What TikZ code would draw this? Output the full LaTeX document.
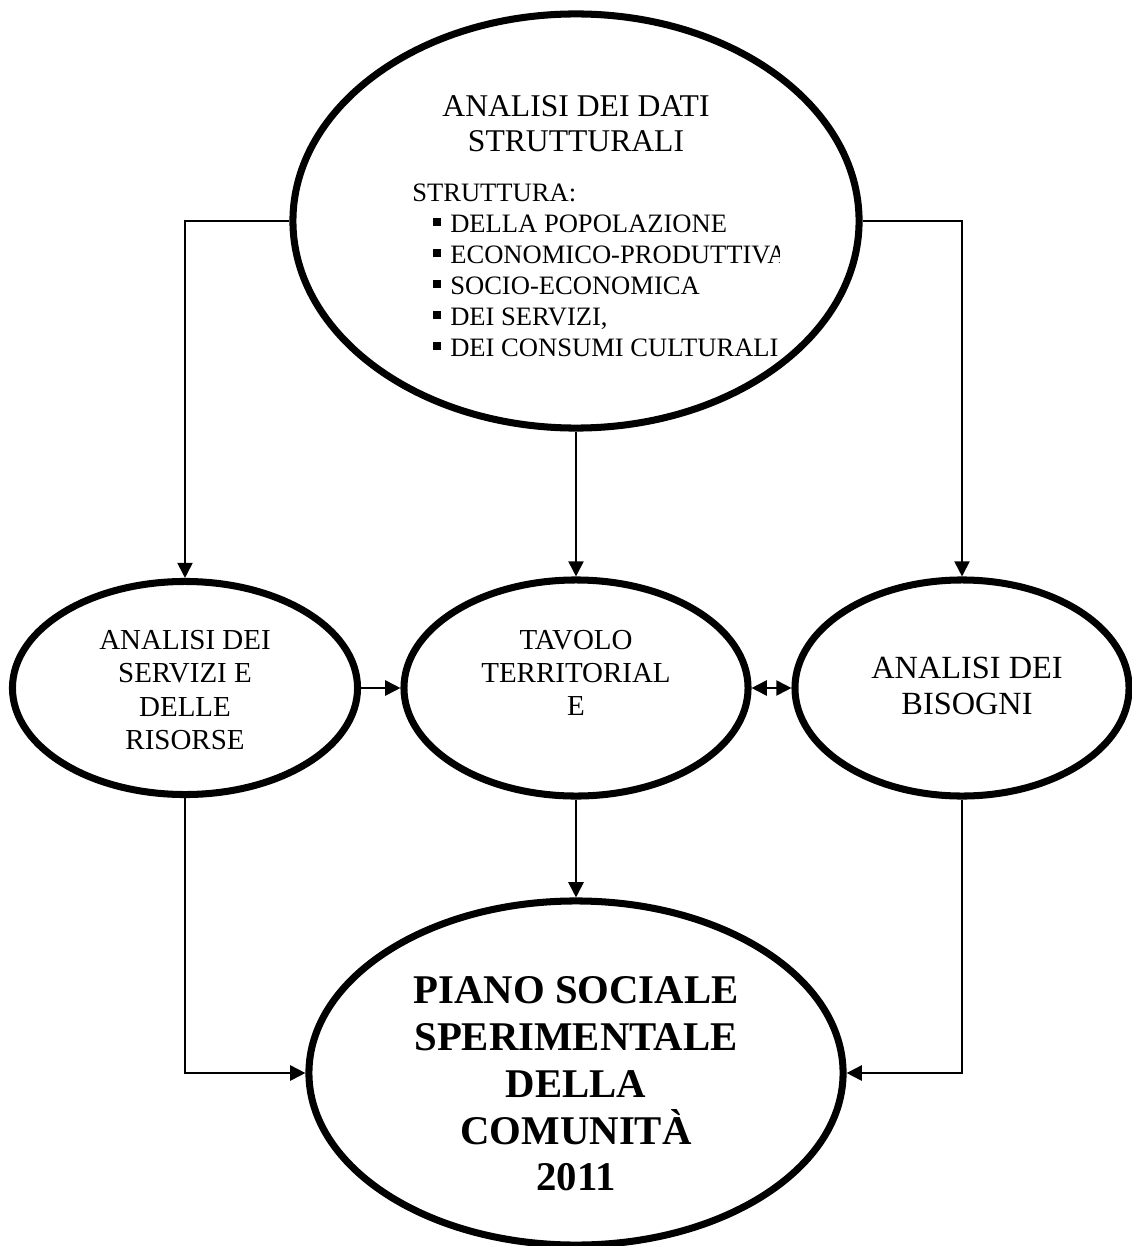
\documentclass[tikz,border=0pt]{standalone}
\usepackage{fontspec}
\setmainfont{Liberation Serif}
\usepackage{tikz}
\usetikzlibrary{positioning, calc}
\usetikzlibrary{arrows.meta,shapes}

\begin{document}
\begin{tikzpicture}[x=0.025cm,y=-0.025cm]
\useasboundingbox (0,0) rectangle (1131,1246);
\tikzstyle{bolla}=[draw,shape=ellipse,line width=5pt,inner sep=0pt];
\tikzstyle{testo}=[align=center,inner sep=0pt,font=\fontsize{20.6pt}{23.7pt}\selectfont];
\tikzstyle{lista}=[inner sep=0pt,font=\fontsize{18.9pt}{22pt}\selectfont];
\tikzstyle{punto}=[draw=none,fill=black,shape=rectangle,minimum size=0.19cm,inner sep=0pt];
\tikzstyle{freccia}=[line width=1.3pt,-{Triangle[length=0.38cm,width=0.38cm]}];
\tikzstyle{doppia}=[line width=1.3pt,{Triangle[length=0.38cm,width=0.38cm]}-{Triangle[length=0.38cm,width=0.38cm]}];
\node[bolla,minimum width=14.15cm,minimum height=10.35cm] (dati) at (576,221) {};
\node[bolla,minimum width=8.625cm,minimum height=5.325cm] (servizi) at (185,688) {};
\node[bolla,minimum width=8.6cm,minimum height=5.4cm] (tavolo) at (576,688) {};
\node[bolla,minimum width=8.35cm,minimum height=5.4cm] (bisogni) at (962,688) {};
\node[bolla,minimum width=13.35cm,minimum height=8.6cm] (piano) at (576,1073) {};
\node[testo,font=\fontsize{22.5pt}{25pt}\selectfont] (titolo) at (576,124) {ANALISI DEI DATI\\STRUTTURALI};
\begin{scope}
\clip (400,160) rectangle (779,380);
\node[lista,anchor=base west] (struttura) at (412,202) {STRUTTURA:};
\foreach \v [count=\i] in {DELLA POPOLAZIONE,ECONOMICO-PRODUTTIVA,SOCIO-ECONOMICA,{DEI SERVIZI,},DEI CONSUMI CULTURALI} {
\node[lista,anchor=base west] (voce\i) at (450,{202+31*\i}) {\v};
\node[punto] (punto\i) at (437,{191+31*\i}) {};
}
\end{scope}
\node[testo] (servizi-t) at (185,690) {ANALISI DEI\\SERVIZI E\\DELLE\\RISORSE};
\node[testo] (tavolo-t) at (576,673) {TAVOLO\\TERRITORIAL\\E};
\node[testo,font=\fontsize{23pt}{25pt}\selectfont] (bisogni-t) at (967,686) {ANALISI DEI\\BISOGNI};
\node[testo,font=\bfseries\fontsize{29pt}{33.3pt}\selectfont] (piano-t) at (576,1084) {PIANO SOCIALE\\SPERIMENTALE\\DELLA\\COMUNITÀ\\2011};
\draw[freccia] (dati.west) -| (servizi.north);
\draw[freccia] (dati.east) -| (bisogni.north);
\draw[freccia] (dati.south) -- (tavolo.north);
\draw[freccia] (servizi.east) -- (tavolo.west);
\draw[doppia] (tavolo.east) -- (bisogni.west);
\draw[freccia] (tavolo.south) -- (piano.north);
\draw[freccia] (servizi.south) |- (piano.west);
\draw[freccia] (bisogni.south) |- (piano.east);
\end{tikzpicture}
\end{document}
